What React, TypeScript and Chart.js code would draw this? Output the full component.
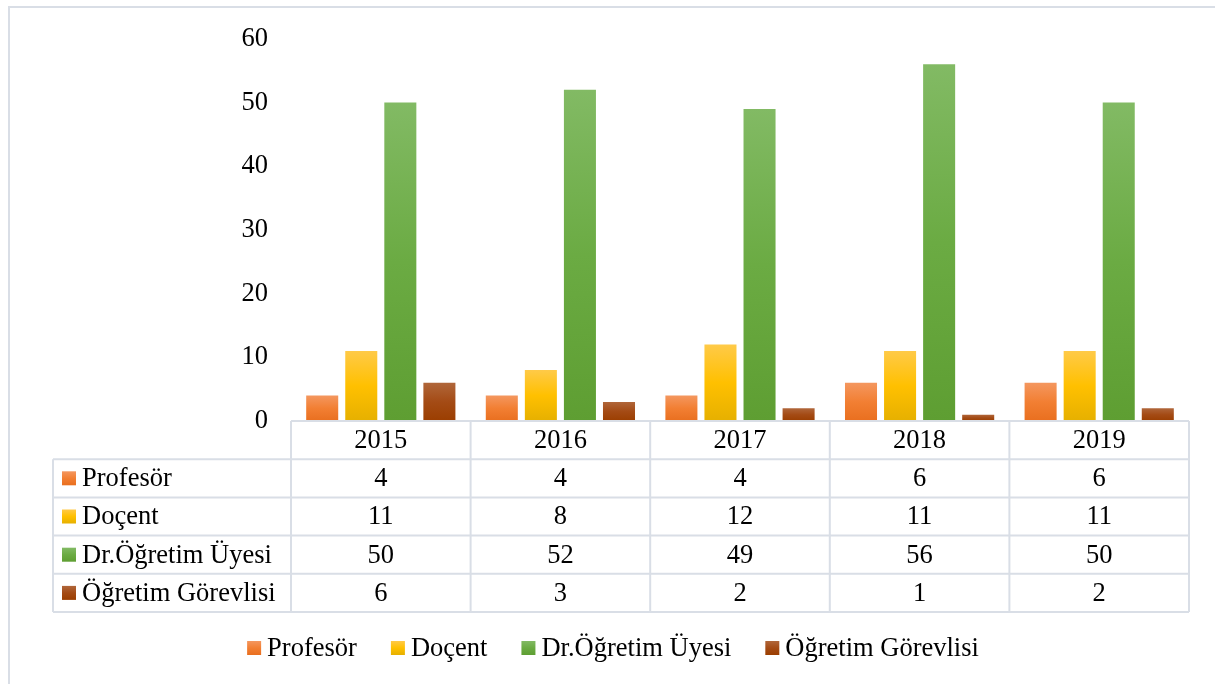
import React, { useEffect, useRef } from "react";
import { Chart, registerables } from "chart.js";

Chart.register(...registerables);

const categories = ["2015", "2016", "2017", "2018", "2019"];
const seriesNames = ["Profesör", "Doçent", "Dr.Öğretim Üyesi", "Öğretim Görevlisi"];
const profesor = [4, 4, 4, 6, 6];
const docent = [11, 8, 12, 11, 11];
const drOgretimUyesi = [50, 52, 49, 56, 50];
const ogretimGorevlisi = [6, 3, 2, 1, 2];
const yTicks = [0, 10, 20, 30, 40, 50, 60];

const seriesValues = [profesor, docent, drOgretimUyesi, ogretimGorevlisi];
const gradientStops: string[][] = [
  ["#F4975F", "#F27F33", "#E96F1F"],
  ["#FFCA48", "#FFC000", "#E6B000"],
  ["#82BA64", "#6BAB43", "#5E9E32"],
  ["#B0663A", "#A44B15", "#9B3E00"],
];

const FONT = "'Liberation Serif', 'Times New Roman', serif";
const FONT_SIZE = 26.5;
const LINE = "#D9DEE6";

function makeGrad(ctx: CanvasRenderingContext2D, top: number, bottom: number, stops: string[]) {
  const g = ctx.createLinearGradient(0, top, 0, bottom);
  g.addColorStop(0, stops[0]);
  g.addColorStop(0.5, stops[1]);
  g.addColorStop(1, stops[2]);
  return g;
}

const tablePlugin = {
  id: "tableAndLegend",
  beforeDraw(chart: any) {
    const ctx: CanvasRenderingContext2D = chart.ctx;
    ctx.save();
    ctx.fillStyle = "#FFFFFF";
    ctx.fillRect(0, 0, chart.width, chart.height);
    ctx.strokeStyle = LINE;
    ctx.lineWidth = 2;
    ctx.strokeRect(9, 7, chart.width + 20, chart.height + 20);
    ctx.restore();
  },
  afterDraw(chart: any) {
    const ctx: CanvasRenderingContext2D = chart.ctx;
    const xs = chart.scales.x;
    const n = categories.length;
    const colW = (xs.right - xs.left) / n;
    const top = chart.chartArea.bottom;
    const rowH = 38.2;
    const leftX = 53;
    const rows = seriesNames.length;
    const bottom = top + rowH * (rows + 1);

    ctx.save();
    ctx.strokeStyle = LINE;
    ctx.lineWidth = 2;
    ctx.beginPath();
    ctx.moveTo(xs.left, top);
    ctx.lineTo(xs.right, top);
    for (let k = 1; k <= rows + 1; k++) {
      const y = top + rowH * k;
      ctx.moveTo(leftX, y);
      ctx.lineTo(xs.right, y);
    }
    for (let i = 0; i <= n; i++) {
      const x = xs.left + colW * i;
      ctx.moveTo(x, top);
      ctx.lineTo(x, bottom);
    }
    ctx.moveTo(leftX, top + rowH);
    ctx.lineTo(leftX, bottom);
    ctx.stroke();

    ctx.fillStyle = "#000000";
    ctx.font = `${FONT_SIZE}px ${FONT}`;
    ctx.textAlign = "center";
    ctx.textBaseline = "middle";
    categories.forEach((c, i) => {
      ctx.fillText(c, xs.getPixelForValue(i), top + rowH / 2 + 1);
    });
    seriesValues.forEach((vals, r) => {
      const cy = top + rowH * (r + 1) + rowH / 2;
      vals.forEach((v, i) => {
        ctx.fillText(String(v), xs.getPixelForValue(i), cy + 1);
      });
      ctx.fillStyle = makeGrad(ctx, cy - 7, cy + 7, gradientStops[r]);
      ctx.fillRect(62, cy - 7, 14, 14);
      ctx.fillStyle = "#000000";
      ctx.textAlign = "left";
      ctx.fillText(seriesNames[r], 82, cy + 1);
      ctx.textAlign = "center";
    });

    // bottom legend
    const box = 14;
    const gapBoxText = 6;
    const gapItems = 34;
    const widths = seriesNames.map((s) => ctx.measureText(s).width);
    const total = widths.reduce((a, w) => a + box + gapBoxText + w, 0) + gapItems * (seriesNames.length - 1);
    let x = 613 - total / 2;
    const ly = 648;
    ctx.textAlign = "left";
    seriesNames.forEach((s, r) => {
      ctx.fillStyle = makeGrad(ctx, ly - 7, ly + 7, gradientStops[r]);
      ctx.fillRect(x, ly - 7, box, box);
      ctx.fillStyle = "#000000";
      ctx.fillText(s, x + box + gapBoxText, ly + 1);
      x += box + gapBoxText + widths[r] + gapItems;
    });
    ctx.restore();
  },
};

export default function App() {
  const ref = useRef<HTMLCanvasElement | null>(null);
  useEffect(() => {
    if (!ref.current) return;
    const chart = new Chart(ref.current, {
      type: "bar",
      data: {
        labels: categories,
        datasets: seriesNames.map((name, s) => ({
          label: name,
          data: seriesValues[s],
          backgroundColor: (c: any) => {
            const ch = c.chart;
            if (!ch.chartArea || c.raw === undefined) return gradientStops[s][1];
            const ys = ch.scales.y;
            const t = ys.getPixelForValue(c.raw);
            const b = ys.getPixelForValue(0);
            if (!(b > t)) return gradientStops[s][1];
            return makeGrad(ch.ctx, t, b, gradientStops[s]);
          },
          borderWidth: 0,
          categoryPercentage: 0.87,
          barPercentage: 0.82,
        })),
      },
      options: {
        responsive: false,
        animation: false,
        devicePixelRatio: 1,
        layout: { padding: { top: 36, right: 26, bottom: 263, left: 0 } },
        plugins: {
          legend: { display: false },
          tooltip: { enabled: false },
        },
        scales: {
          x: { display: false },
          y: {
            min: 0,
            max: 60,
            afterFit: (scale: any) => {
              scale.width = 291;
            },
            afterBuildTicks: (scale: any) => {
              scale.ticks = yTicks.map((v) => ({ value: v }));
            },
            grid: { display: false, drawTicks: false },
            border: { display: false },
            ticks: {
              padding: 23,
              color: "#000000",
              font: { family: FONT, size: FONT_SIZE },
            },
          },
        },
      },
      plugins: [tablePlugin],
    });
    return () => chart.destroy();
  }, []);
  return (
    <div style={{ position: "absolute", left: 0, top: 0, width: 1215, height: 684, background: "#fff" }}>
      <canvas ref={ref} width={1215} height={684} style={{ display: "block" }} />
    </div>
  );
}
